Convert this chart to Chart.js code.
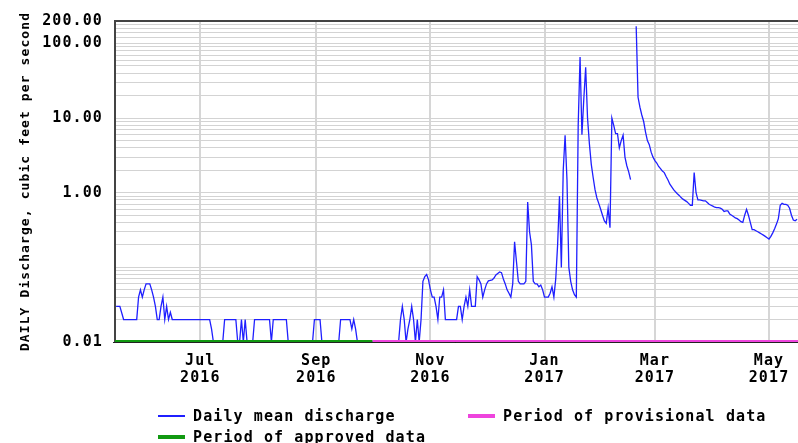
<!DOCTYPE html>
<html>
<head>
<meta charset="utf-8">
<script src="https://cdn.jsdelivr.net/npm/chart.js@4.4.1/dist/chart.umd.min.js"></script>
<style>
html,body{margin:0;padding:0;background:#fff;}
#wrap{position:relative;width:798px;height:443px;overflow:hidden;}
canvas{display:block;}
.lgtext{position:absolute;font:bold 15px "DejaVu Sans Mono",monospace;letter-spacing:1.1px;color:#000;white-space:nowrap;line-height:16px;}
.lgsw{position:absolute;width:27px;}
</style>
</head>
<body>
<div id="wrap"><canvas id="c" width="798" height="443"></canvas></div>
<script>
// ---- data ----
const obsDates = [
 '2016-05-17','2016-05-19','2016-05-21','2016-05-28','2016-05-29','2016-05-30','2016-05-31',
 '2016-06-01','2016-06-02','2016-06-04','2016-06-05','2016-06-06','2016-06-07','2016-06-08',
 '2016-06-09','2016-06-10','2016-06-11','2016-06-12','2016-06-13','2016-06-14','2016-06-15','2016-06-16',
 '2016-07-06','2016-07-07','2016-07-08','2016-07-13','2016-07-14','2016-07-20','2016-07-21',
 '2016-07-22','2016-07-23','2016-07-24','2016-07-25','2016-07-26','2016-07-29','2016-07-30',
 '2016-08-07','2016-08-08','2016-08-09','2016-08-16','2016-08-17','2016-08-30','2016-08-31',
 '2016-09-03','2016-09-04','2016-09-13','2016-09-14','2016-09-19','2016-09-20','2016-09-21','2016-09-22','2016-09-23',
 '2016-10-15','2016-10-16','2016-10-17','2016-10-18','2016-10-19','2016-10-20','2016-10-21','2016-10-22','2016-10-23',
 '2016-10-24','2016-10-25','2016-10-26','2016-10-27','2016-10-28','2016-10-29','2016-10-30','2016-10-31',
 '2016-11-01','2016-11-02','2016-11-03','2016-11-04','2016-11-05','2016-11-06','2016-11-07','2016-11-08','2016-11-09','2016-11-10',
 '2016-11-11','2016-11-12','2016-11-13','2016-11-14','2016-11-15','2016-11-16','2016-11-17','2016-11-18','2016-11-19','2016-11-20',
 '2016-11-21','2016-11-22','2016-11-23','2016-11-24','2016-11-25','2016-11-26','2016-11-27','2016-11-28','2016-11-29','2016-11-30',
 '2016-12-01','2016-12-02','2016-12-03','2016-12-04','2016-12-05','2016-12-06','2016-12-07','2016-12-08','2016-12-09','2016-12-10',
 '2016-12-11','2016-12-12','2016-12-13','2016-12-14','2016-12-15','2016-12-16','2016-12-17','2016-12-18','2016-12-19','2016-12-20',
 '2016-12-21','2016-12-22','2016-12-23','2016-12-24','2016-12-25','2016-12-26','2016-12-27','2016-12-28','2016-12-29','2016-12-30','2016-12-31',
 '2017-01-01','2017-01-02','2017-01-03','2017-01-04','2017-01-05','2017-01-06','2017-01-07','2017-01-08','2017-01-09','2017-01-10',
 '2017-01-11','2017-01-12','2017-01-13','2017-01-14','2017-01-15','2017-01-16','2017-01-17','2017-01-18','2017-01-19','2017-01-20',
 '2017-01-21','2017-01-22','2017-01-23','2017-01-24','2017-01-25','2017-01-26','2017-01-27','2017-01-28','2017-01-29','2017-01-30','2017-01-31',
 '2017-02-01','2017-02-02','2017-02-03','2017-02-04','2017-02-05','2017-02-06','2017-02-07','2017-02-08','2017-02-09','2017-02-10',
 '2017-02-11','2017-02-12','2017-02-13','2017-02-14','2017-02-15','2017-02-16','2017-02-17','2017-02-18','2017-02-19','2017-02-20',
 '2017-02-21','2017-02-22','2017-02-23','2017-02-24','2017-02-25','2017-02-26','2017-02-27','2017-02-28',
 '2017-03-01','2017-03-02','2017-03-03','2017-03-04','2017-03-05','2017-03-06','2017-03-07','2017-03-08','2017-03-09','2017-03-10',
 '2017-03-11','2017-03-12','2017-03-13','2017-03-14','2017-03-15','2017-03-16','2017-03-17','2017-03-18','2017-03-19','2017-03-20',
 '2017-03-21','2017-03-22','2017-03-23','2017-03-24','2017-03-25','2017-03-26','2017-03-27','2017-03-28','2017-03-29','2017-03-30','2017-03-31',
 '2017-04-01','2017-04-02','2017-04-03','2017-04-04','2017-04-05','2017-04-06','2017-04-07','2017-04-08','2017-04-09','2017-04-10',
 '2017-04-11','2017-04-12','2017-04-13','2017-04-14','2017-04-15','2017-04-16','2017-04-17','2017-04-18','2017-04-19','2017-04-20',
 '2017-04-21','2017-04-22','2017-04-23','2017-04-24','2017-04-25','2017-04-26','2017-04-27','2017-04-28','2017-04-29','2017-04-30',
 '2017-05-01','2017-05-02','2017-05-03','2017-05-04','2017-05-05','2017-05-06','2017-05-07','2017-05-08','2017-05-09','2017-05-10',
 '2017-05-11','2017-05-12','2017-05-13','2017-05-14','2017-05-15','2017-05-16'
];
const obsDischarge = [
 0.03,0.03,0.02,0.02,0.04,0.05,0.04,
 0.05,0.06,0.06,0.05,0.04,0.03,0.02,
 0.02,0.03,0.04,0.02,0.03,0.02,0.025,0.02,
 0.02,0.015,0.01,0.01,0.02,0.02,0.01,
 0.01,0.02,0.01,0.02,0.01,0.01,0.02,
 0.02,0.01,0.02,0.02,0.01,0.01,0.02,
 0.02,0.01,0.01,0.02,0.02,0.015,0.02,0.015,0.01,
 0.01,0.02,0.03,0.02,0.01,0.015,0.02,0.03,0.02,
 0.01,0.02,0.01,0.02,0.065,0.075,0.08,0.068,
 0.05,0.04,0.04,0.03,0.02,0.04,0.04,0.05,0.02,0.02,
 0.02,0.02,0.02,0.02,0.02,0.03,0.03,0.02,0.03,0.04,
 0.03,0.05,0.03,0.03,0.03,0.075,0.068,0.06,0.04,0.05,
 0.06,0.066,0.067,0.068,0.072,0.079,0.083,0.087,0.085,0.07,
 0.06,0.05,0.045,0.04,0.06,0.22,0.12,0.065,0.06,0.06,
 0.06,0.065,0.75,0.3,0.2,0.065,0.06,0.06,0.055,0.058,0.05,
 0.04,0.04,0.04,0.045,0.055,0.04,0.07,0.2,0.9,0.1,
 2,5.9,1.5,0.1,0.065,0.05,0.043,0.04,8,66,
 6,18,48,10,4.5,2.4,1.6,1.1,0.85,0.72,0.6,
 0.5,0.42,0.39,0.62,0.34,10,8,6.2,6.2,4,
 5,5.9,3,2.3,1.9,1.5,null,null,170,19,
 14,11,9,6.5,5,4.4,3.5,3.0,
 2.7,2.5,2.25,2.1,1.95,1.86,1.65,1.48,1.3,1.2,
 1.1,1.03,0.97,0.92,0.86,0.82,0.79,0.76,0.72,0.68,
 0.68,1.86,1.0,0.8,0.8,0.79,0.78,0.78,0.74,0.7,0.68,
 0.66,0.64,0.63,0.63,0.62,0.6,0.56,0.57,0.57,0.52,
 0.5,0.48,0.46,0.45,0.43,0.41,0.4,0.5,0.6,0.5,
 0.4,0.32,0.32,0.31,0.3,0.29,0.28,0.27,0.26,0.25,
 0.24,0.26,0.29,0.33,0.38,0.45,0.68,0.72,0.7,0.7,
 0.68,0.62,0.5,0.43,0.42,0.44
];
const approvedPeriod = ['2016-05-16', '2016-10-01'];
const provisionalPeriod = ['2016-10-01', '2017-05-17'];

const yMin = 0.01, yMax = 200;
const yGridValues = [0.01,0.02,0.03,0.04,0.05,0.06,0.07,0.08,0.09,
  0.1,0.2,0.3,0.4,0.5,0.6,0.7,0.8,0.9,
  1,2,3,4,5,6,7,8,9,
  10,20,30,40,50,60,70,80,90,
  100,120,140,160,180,200];
const yLabelValues = [0.01, 1, 10, 100, 200];
const xTickDates = ['2016-07-01','2016-09-01','2016-11-01','2017-01-01','2017-03-01','2017-05-01'];
const xTickLabels = [['Jul','2016'],['Sep','2016'],['Nov','2016'],['Jan','2017'],['Mar','2017'],['May','2017']];
const seriesLabels = ['Daily mean discharge', 'Period of approved data', 'Period of provisional data'];
const yTitle = 'DAILY Discharge, cubic feet per second';

// ---- helpers ----
const ORIGIN = Date.UTC(2016, 6, 1);
function toDay(s) {
  const p = s.split('-').map(Number);
  return (Date.UTC(p[0], p[1] - 1, p[2]) - ORIGIN) / 86400000;
}
const xMin = toDay('2016-05-16') + 0.4;
const xMax = toDay('2017-05-16') + 0.5;

const dischargePoints = obsDates.map((d, i) => ({x: toDay(d), y: obsDischarge[i]}));
const approvedPoints = approvedPeriod.map(d => ({x: toDay(d), y: yMin}));
const provisionalPoints = provisionalPeriod.map(d => ({x: toDay(d), y: yMin}));

const FONT = '"DejaVu Sans Mono", monospace';
Chart.defaults.font.family = FONT;
Chart.defaults.font.size = 15;
Chart.defaults.font.weight = 'bold';
Chart.defaults.color = '#000';

const spacingPlugin = {
  id: 'spacing',
  beforeLayout(chart) { chart.ctx.letterSpacing = '1.1px'; },
  beforeDraw(chart) { chart.ctx.letterSpacing = '1.1px'; }
};
const axisLinePlugin = {
  id: 'axisLine',
  afterDatasetsDraw(chart) {
    const {ctx, chartArea} = chart;
    ctx.save();
    ctx.strokeStyle = '#222';
    ctx.lineWidth = 1;
    ctx.beginPath();
    ctx.moveTo(chartArea.left - 2, chartArea.bottom + 0.5);
    ctx.lineTo(chartArea.right, chartArea.bottom + 0.5);
    ctx.stroke();
    ctx.restore();
  }
};

const chart = new Chart(document.getElementById('c'), {
  type: 'line',
  data: {
    datasets: [
      {label: seriesLabels[0], data: dischargePoints, borderColor: '#1f1fff', borderWidth: 1.3,
       pointRadius: 0, tension: 0, spanGaps: false, order: 2},
      {label: seriesLabels[1], data: approvedPoints, borderColor: '#119911', borderWidth: 4,
       pointRadius: 0, order: 1},
      {label: seriesLabels[2], data: provisionalPoints, borderColor: '#ee44dd', borderWidth: 4,
       pointRadius: 0, order: 1}
    ]
  },
  options: {
    responsive: false,
    animation: false,
    devicePixelRatio: 1,
    layout: {padding: {top: 13, right: 0, bottom: 0, left: 0}},
    plugins: {legend: {display: false}, tooltip: {enabled: false}},
    scales: {
      x: {
        type: 'linear', min: xMin, max: xMax,
        afterBuildTicks: s => { s.ticks = xTickDates.map(d => ({value: toDay(d)})); },
        afterFit: s => { s.height = 101; },
        ticks: {autoSkip: false, maxRotation: 0, minRotation: 0, padding: 8,
                callback: (v, i) => xTickLabels[i],
                font: {size: 15, weight: 'bold', lineHeight: 1.1}},
        grid: {color: '#d6d6d6', lineWidth: 2, drawTicks: true, tickLength: 3, tickColor: 'rgba(0,0,0,0)'},
        border: {display: true, color: '#000', width: 1}
      },
      y: {
        type: 'logarithmic', min: yMin, max: yMax,
        afterBuildTicks: s => { s.ticks = yGridValues.map(v => ({value: v})); },
        afterFit: s => { s.width = 115; },
        ticks: {autoSkip: false, padding: 12,
                callback: v => yLabelValues.includes(v) ? v.toFixed(2) : ''},
        grid: {
          color: c => (c.tick && c.tick.value === yMax) ? '#444' : ((c.tick && c.tick.value === yMin) ? 'rgba(0,0,0,0)' : '#d3d3d3'),
          lineWidth: c => (c.tick && c.tick.value === yMax) ? 2 : 1,
          drawTicks: false
        },
        border: {display: true, color: '#444', width: 2},
        title: {display: true, text: yTitle, font: {size: 13, weight: 'bold'}, padding: {top: 18, bottom: 0}, color: '#000'}
      }
    }
  },
  plugins: [spacingPlugin, axisLinePlugin]
});

// ---- legend (HTML text) ----
const legendLayout = [
  {ds: 0, x: 158, y: 408},
  {ds: 2, x: 468, y: 408},
  {ds: 1, x: 158, y: 428.5}
];
const wrap = document.getElementById('wrap');
legendLayout.forEach(item => {
  const ds = chart.data.datasets[item.ds];
  const h = ds.borderWidth > 2 ? 4 : 1.5;
  const sw = document.createElement('div');
  sw.className = 'lgsw';
  sw.style.left = item.x + 'px';
  sw.style.top = (item.y + 8 - h / 2) + 'px';
  sw.style.height = h + 'px';
  sw.style.background = ds.borderColor;
  wrap.appendChild(sw);
  const tx = document.createElement('div');
  tx.className = 'lgtext';
  tx.style.left = (item.x + 35) + 'px';
  tx.style.top = item.y + 'px';
  tx.textContent = ds.label;
  wrap.appendChild(tx);
});
</script>
</body>
</html>
